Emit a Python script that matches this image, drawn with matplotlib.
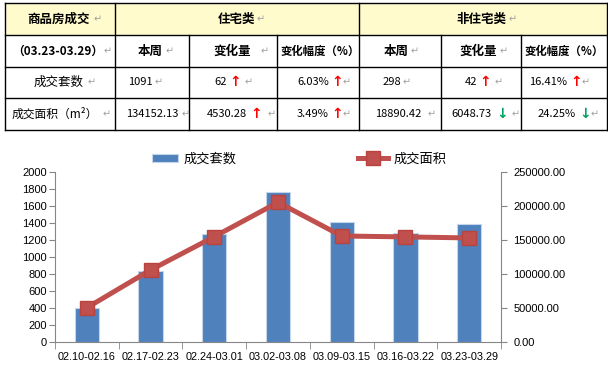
import matplotlib
matplotlib.use("Agg")
import matplotlib.pyplot as plt
import numpy as np
from matplotlib.ticker import FormatStrFormatter, FixedLocator

plt.rcParams["font.family"] = ["Noto Sans CJK SC", "DejaVu Sans"]

# chart data
weeks = ["02.10-02.16", "02.17-02.23", "02.24-03.01", "03.02-03.08",
         "03.09-03.15", "03.16-03.22", "03.23-03.29"]
deal_counts = [403, 838, 1270, 1768, 1415, 1285, 1389]
deal_area = [50400, 105900, 154900, 205400, 155900, 154561, 153043]

# table data
row_titles = ["成交套数", "成交面积（m²）"]
res_week = ["1091", "134152.13"]
res_change = ["62", "4530.28"]
res_pct = ["6.03%", "3.49%"]
res_dir = ["up", "up"]
non_week = ["298", "18890.42"]
non_change = ["42", "6048.73"]
non_pct = ["16.41%", "24.25%"]
non_dir = ["up", "down"]

blue = "#4F81BD"
red = "#C0504D"
grey = "#868686"
ret = "#A0A0A0"

fig = plt.figure(figsize=(6.08, 3.65), dpi=100)

# ---- table, drawn in pixel coordinates ----
tb = fig.add_axes([0, 0, 1, 1])
tb.set_xlim(0, 608)
tb.set_ylim(365, 0)
tb.axis("off")

rows_y = [3, 35, 67, 98, 130]
L, R = 5, 606.5
tb.fill_between([L, R], rows_y[0], rows_y[1], color="#FFFBCC", lw=0)
for y in rows_y:
    tb.plot([L, R], [y, y], color="black", lw=1)
for x in [L, 115, 359, R]:
    tb.plot([x, x], [rows_y[0], rows_y[-1]], color="black", lw=1)
for x in [189, 277, 441, 521]:
    tb.plot([x, x], [rows_y[1], rows_y[-1]], color="black", lw=1)


def cell(x, y, s, ret_x=None, bold=False, size=9):
    tb.text(x, y, s, ha="left", va="center", fontsize=size,
            fontweight="bold" if bold else "normal")
    if ret_x is not None:
        tb.text(ret_x, y, "↵", ha="left", va="center", fontsize=7,
                color=ret, family=["DejaVu Sans"])


def num(x_end, y, s, ret_x, arrow=None, arrow_x=None):
    tb.text(x_end, y, s, ha="right", va="center", fontsize=8)
    if arrow is not None:
        tb.text(arrow_x, y, "↑" if arrow == "up" else "↓", ha="left",
                va="center", fontsize=10, fontweight="bold",
                color="#FF0000" if arrow == "up" else "#00A060",
                family=["DejaVu Sans"])
    tb.text(ret_x, y, "↵", ha="left", va="center", fontsize=7,
            color=ret, family=["DejaVu Sans"])


y1, y2 = 19, 51
cell(27, y1, "商品房成交", 94, bold=True)
cell(218, y1, "住宅类", 257, bold=True)
cell(456, y1, "非住宅类", 509, bold=True)
cell(12, y2, "（03.23-03.29）", 104, bold=True, size=8.5)
cell(138, y2, "本周", 166, bold=True)
cell(213, y2, "变化量", 261, bold=True)
cell(281, y2, "变化幅度（%）", None, bold=True, size=8.2)
cell(384, y2, "本周", 411, bold=True)
cell(459, y2, "变化量", 500, bold=True)
cell(525, y2, "变化幅度（%）", None, bold=True, size=8.2)

row_y = [82, 114]
title_x = [34, 12]
title_ret = [88, 103]
title_size = [9, 8.5]
week_end = [153, 178]
week_ret = [155, 182]
chg_end = [227, 247]
chg_arrow = [229, 250]
chg_ret = [245, 268]
non_week_end = [401, 421]
non_week_ret = [403, 428]
non_chg_end = [477, 492]
non_chg_arrow = [479, 496]
non_chg_ret = [495, 512]
non_pct_end = [567, 576]
non_pct_arrow = [570, 579]
non_pct_ret = [582, 591]
for i in range(2):
    y = row_y[i]
    cell(title_x[i], y, row_titles[i], title_ret[i], size=title_size[i])
    num(week_end[i], y, res_week[i], week_ret[i])
    num(chg_end[i], y, res_change[i], chg_ret[i], res_dir[i], chg_arrow[i])
    num(329, y, res_pct[i], 343, res_dir[i], 331)
    num(non_week_end[i], y, non_week[i], non_week_ret[i])
    num(non_chg_end[i], y, non_change[i], non_chg_ret[i], non_dir[i], non_chg_arrow[i])
    num(non_pct_end[i], y, non_pct[i], non_pct_ret[i], non_dir[i], non_pct_arrow[i])

# ---- chart ----
ax = fig.add_axes([55 / 608, 23 / 365, 446 / 608, 170 / 365])
x = np.arange(len(weeks))
bars = ax.bar(x, deal_counts, width=0.38, color=blue, edgecolor="#C5D5EA",
              linewidth=0.8, label="成交套数", zorder=2)
ax.set_xlim(-0.5, len(weeks) - 0.5)
ax.set_ylim(0, 2000)
ax.set_yticks(range(0, 2001, 200))
ax.set_xticks(x)
ax.set_xticklabels(weeks)
ax.xaxis.set_minor_locator(FixedLocator(np.arange(-0.5, len(weeks), 1)))
ax.tick_params(axis="x", which="major", length=0, pad=7)
ax.tick_params(axis="x", which="minor", length=5, color=grey)
ax.tick_params(axis="y", length=4, color=grey, pad=2)
for lab in ax.get_xticklabels():
    lab.set_family(["Liberation Sans"])
    lab.set_fontsize(7.8)
for lab in ax.get_yticklabels():
    lab.set_family(["Liberation Sans"])
    lab.set_fontsize(8)
for s in ["top", "right"]:
    ax.spines[s].set_visible(False)
for s in ["left", "bottom"]:
    ax.spines[s].set_color(grey)

ax2 = ax.twinx()
line, = ax2.plot(x, deal_area, color=red, lw=3.6, marker="s", markersize=10,
                 markeredgecolor="#B8433F", label="成交面积", zorder=3)
ax2.set_ylim(0, 250000)
ax2.set_yticks(range(0, 250001, 50000))
ax2.yaxis.set_major_formatter(FormatStrFormatter("%.2f"))
ax2.tick_params(axis="y", length=4, color=grey, pad=5)
for lab in ax2.get_yticklabels():
    lab.set_family(["Liberation Sans"])
    lab.set_fontsize(8)
for s in ["top", "left", "bottom"]:
    ax2.spines[s].set_visible(False)
ax2.spines["right"].set_color(grey)

fig.legend(handles=[bars], loc="center left", bbox_to_anchor=(145 / 608, 1 - 159 / 365),
           frameon=False, fontsize=9.5, borderpad=0, handlelength=2.0,
           handleheight=0.55, handletextpad=0.45)
fig.legend(handles=[line], loc="center left", bbox_to_anchor=(351 / 608, 1 - 159 / 365),
           frameon=False, fontsize=9.5, borderpad=0, handlelength=2.3,
           handletextpad=0.4)

fig.savefig("out.png", dpi=100)
